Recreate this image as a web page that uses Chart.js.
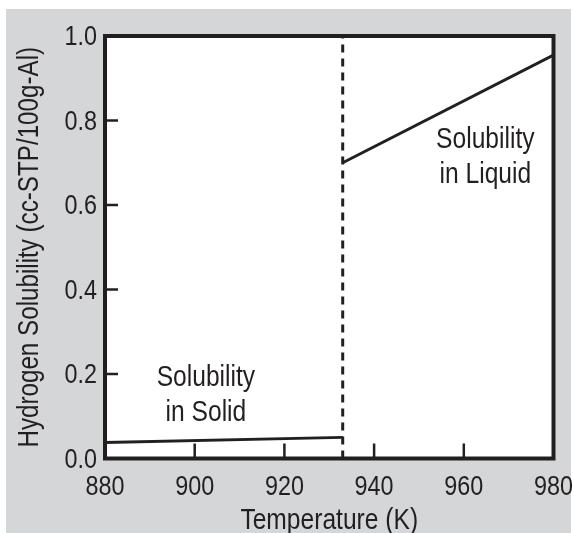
<!DOCTYPE html>
<html>
<head>
<meta charset="utf-8">
<script src="https://cdn.jsdelivr.net/npm/chart.js@4"></script>
<style>
  html, body { margin: 0; padding: 0; background: #fff; }
  #wrap { position: relative; width: 573px; height: 533px; overflow: hidden; }
  #panel { position: absolute; left: 6px; top: 9px; width: 565px; height: 524px; background: #d4d6d8; }
  #chart { position: absolute; left: 0; top: 0; }
</style>
</head>
<body>
<div id="wrap">
  <div id="panel"></div>
  <canvas id="chart" width="573" height="533"></canvas>
</div>
<script>
// values
const solidTemps = [880, 933];
const solidSolubility = [0.038, 0.05];
const liquidTemps = [933, 980];
const liquidSolubility = [0.70, 0.955];
const meltingPoint = 933;
const xTicks = [880, 900, 920, 940, 960, 980];
const yTicks = [0, 0.2, 0.4, 0.6, 0.8, 1.0];
const xTitle = 'Temperature (K)';
const yTitle = 'Hydrogen Solubility (cc-STP/100g-Al)';

const ink = '#231f20';
const fontFamily = "'Liberation Sans', Arial, Helvetica, sans-serif";
const squeeze = 0.82; // the reference uses a condensed face

const toPoints = (xs, ys) => xs.map((x, i) => ({ x: x, y: ys[i] }));

function condensedText(ctx, text, x, y, size, align, rotate) {
  ctx.save();
  ctx.translate(x, y);
  if (rotate) ctx.rotate(rotate);
  ctx.scale(squeeze, 1);
  ctx.font = size + 'px ' + fontFamily;
  ctx.textAlign = align;
  ctx.textBaseline = 'middle';
  ctx.fillStyle = ink;
  ctx.fillText(text, 0, 0);
  ctx.restore();
}

// frame, white plot area, inward ticks, labels and the two text notes
const framePlugin = {
  id: 'frame',
  beforeDraw(chart) {
    const { ctx, chartArea: a } = chart;
    ctx.save();
    ctx.fillStyle = '#ffffff';
    ctx.fillRect(a.left, a.top, a.right - a.left, a.bottom - a.top);
    ctx.restore();
  },
  afterDatasetsDraw(chart) {
    const { ctx, chartArea: a, scales } = chart;
    ctx.save();
    ctx.strokeStyle = ink;
    ctx.lineWidth = 2.5;
    xTicks.forEach(v => {
      const px = scales.x.getPixelForValue(v);
      ctx.beginPath();
      ctx.moveTo(px, a.bottom);
      ctx.lineTo(px, a.bottom - 15);
      ctx.stroke();
      condensedText(ctx, String(v), px, a.bottom + 28.5, 28.5, 'center');
    });
    yTicks.forEach(v => {
      const py = scales.y.getPixelForValue(v);
      ctx.beginPath();
      ctx.moveTo(a.left, py);
      ctx.lineTo(a.left + 13, py);
      ctx.stroke();
      condensedText(ctx, v.toFixed(1), a.left - 8, py + 1.5, 28.5, 'right');
    });
    ctx.lineWidth = 4;
    ctx.strokeRect(a.left, a.top, a.right - a.left, a.bottom - a.top);
    ctx.restore();

    condensedText(ctx, xTitle, (a.left + a.right) / 2, 521, 30, 'center');
    condensedText(ctx, yTitle, 30, (a.top + a.bottom) / 2, 29.5, 'center', -Math.PI / 2);

    const note = (lines, x, y) => {
      const px = scales.x.getPixelForValue(x);
      const py = scales.y.getPixelForValue(y);
      lines.forEach((t, i) => condensedText(ctx, t, px, py + i * 35, 30, 'center'));
    };
    note(['Solubility', 'in Solid'], 902.5, 0.19);
    note(['Solubility', 'in Liquid'], 964.8, 0.755);
  }
};

new Chart(document.getElementById('chart'), {
  type: 'scatter',
  data: {
    datasets: [
      {
        label: 'Solid',
        data: toPoints(solidTemps, solidSolubility),
        showLine: true,
        borderColor: ink,
        borderWidth: 3,
        pointRadius: 0
      },
      {
        label: 'Liquid',
        data: toPoints(liquidTemps, liquidSolubility),
        showLine: true,
        borderColor: ink,
        borderWidth: 3,
        pointRadius: 0
      },
      {
        label: 'Melting point',
        data: toPoints([meltingPoint, meltingPoint], [0, 1]),
        showLine: true,
        borderColor: ink,
        borderWidth: 3,
        borderDash: [8, 6],
        pointRadius: 0
      }
    ]
  },
  options: {
    responsive: false,
    animation: false,
    devicePixelRatio: 1,
    layout: { padding: { top: 36, right: 19.5, bottom: 0, left: 0 } },
    plugins: {
      legend: { display: false },
      tooltip: { enabled: false }
    },
    scales: {
      x: {
        type: 'linear',
        min: 880,
        max: 980,
        afterFit: s => { s.height = 74.5; s.paddingLeft = 0; s.paddingRight = 0; },
        afterBuildTicks: s => { s.ticks = xTicks.map(v => ({ value: v })); },
        grid: { display: false, drawTicks: false },
        border: { display: false },
        ticks: { display: false }
      },
      y: {
        type: 'linear',
        min: 0,
        max: 1,
        afterFit: s => { s.width = 105; s.paddingTop = 0; s.paddingBottom = 0; },
        afterBuildTicks: s => { s.ticks = yTicks.map(v => ({ value: v })); },
        grid: { display: false, drawTicks: false },
        border: { display: false },
        ticks: { display: false }
      }
    }
  },
  plugins: [framePlugin]
});
</script>
</body>
</html>
